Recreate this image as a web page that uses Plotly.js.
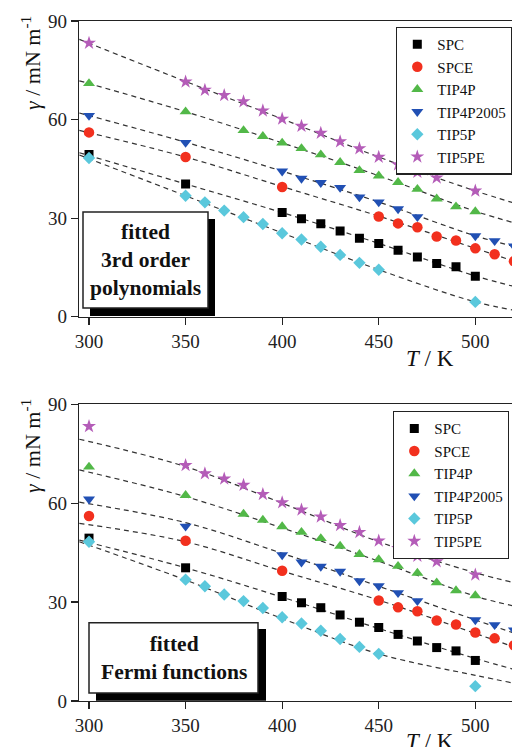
<!DOCTYPE html>
<html><head><meta charset="utf-8">
<script src="https://cdn.plot.ly/plotly-3.0.1.min.js"></script>
<style>html,body{margin:0;padding:0;overflow:hidden;background:#fff}#chart{width:524px;height:760px}</style>
</head><body><div id="chart"></div>
<script>
// Temperatures (K)
const T = [300,350,360,370,380,390,400,410,420,430,440,450,460,470,480,490,500,510,520];
// Surface tension (mN/m) per water model
const SPC       = [49.4,40.4,null,null,null,null,31.7,29.8,28.3,26.1,23.9,22.3,20.2,18.2,16.2,15.2,12.3,null,null];
const SPCE      = [56.1,48.6,null,null,null,null,39.5,null,null,null,null,30.5,28.4,27.2,24.4,23.2,20.8,19.0,16.9];
const TIP4P     = [71.0,62.4,null,null,56.7,54.9,52.9,51.2,49.3,47.0,44.5,42.9,40.9,38.8,35.9,33.5,32.0,null,null];
const TIP4P2005 = [61.2,53.0,null,null,null,null,44.3,42.1,40.8,39.3,36.4,34.9,32.8,30.4,null,null,24.6,23.1,21.5];
const TIP5P     = [48.3,36.8,34.8,32.3,30.3,28.2,25.4,23.5,21.3,18.8,16.4,14.3,null,null,null,null,4.5,null,null];
const TIP5PE    = [83.3,71.5,69.0,67.4,65.5,62.7,60.2,58.0,55.9,53.3,51.2,48.6,46.3,44.0,42.3,null,38.3,null,null];

// Fitted curves
const fitT = [295,350,400,450,500,520];
const polySPC       = [49.9,40.4,31.7,22.3,12.4,9.2];
const polySPCE      = [56.7,48.6,39.6,30.6,20.8,16.9];
const polyTIP4P     = [71.8,62.4,52.9,42.9,32.1,28.6];
const polyTIP4P2005 = [62.0,53.1,44.3,34.9,24.6,21.4];
const polyTIP5P     = [49.2,36.8,25.5,14.3,4.5,2.0];
const polyTIP5PE    = [84.4,71.6,60.2,48.6,38.3,34.6];

const fermiSPC       = [48.8,40.4,31.5,22.0,12.9,9.6];
const fermiSPCE      = [53.9,48.3,39.4,30.6,20.5,16.4];
const fermiTIP4P     = [70.1,62.0,52.5,42.4,31.8,28.8];
const fermiTIP4P2005 = [60.3,54.1,44.8,34.8,24.6,20.6];
const fermiTIP5P     = [48.3,36.7,25.0,14.3,7.8,5.4];
const fermiTIP5PE    = [79.4,71.1,60.0,48.3,38.9,35.9];

const names = ['SPC','SPCE','TIP4P','TIP4P2005','TIP5P','TIP5PE'];
const dataSets = [SPC,SPCE,TIP4P,TIP4P2005,TIP5P,TIP5PE];
const polyFits = [polySPC,polySPCE,polyTIP4P,polyTIP4P2005,polyTIP5P,polyTIP5PE];
const fermiFits = [fermiSPC,fermiSPCE,fermiTIP4P,fermiTIP4P2005,fermiTIP5P,fermiTIP5PE];

const symbols = ['square','circle','triangle-up','triangle-down','diamond','star'];
const colors = ['#000000','#f2301e','#52b848','#2150b4','#5ac8dc','#b45cb8'];
const sizes = [9,10.5,10.5,10.5,9.5,10.5];

const L=79, W=445, TOP=21, H=680, B=TOP+H;
const PX = x => (x-L)/W;
const PY = y => (B-y)/H;

const traces = [];
[[polyFits,'x','y','legend'],[fermiFits,'x2','y2','legend2']].forEach(([fits,xa,ya,lg])=>{
  fits.forEach(f=>traces.push({x:fitT,y:f,xaxis:xa,yaxis:ya,mode:'lines',
    line:{color:'#333',width:1.2,dash:'5px,4px',shape:'spline',smoothing:1},
    showlegend:false,hoverinfo:'skip'}));
  dataSets.forEach((d,i)=>traces.push({x:T,y:d,xaxis:xa,yaxis:ya,mode:'markers',name:names[i],legend:lg,
    marker:{symbol:symbols[i],color:colors[i],size:sizes[i],line:{width:0}}}));
});

const serif = 'Liberation Serif';
const xr = [294.82, 525.2];
function xax(anchor){return {anchor:anchor,domain:[0,1],range:xr,tickvals:[300,350,400,450,500],
  ticks:'outside',ticklen:7,tickwidth:1.2,tickcolor:'#222',showline:true,linecolor:'#222',linewidth:1.3,
  mirror:true,showgrid:false,zeroline:false,tickfont:{family:serif,size:19,color:'#222'}};}
function yax(anchor,dom){return {anchor:anchor,domain:dom,range:[0,90],tickvals:[0,30,60,90],
  ticks:'outside',ticklen:7,tickwidth:1.2,tickcolor:'#222',showline:true,linecolor:'#222',linewidth:1.3,
  mirror:true,showgrid:false,zeroline:false,tickfont:{family:serif,size:19,color:'#222'}};}

const legendBase = {xanchor:'left',yanchor:'top',bgcolor:'#fff',bordercolor:'#222',borderwidth:1.3,
  font:{family:serif,size:15,color:'#111'},traceorder:'normal'};

const ann = (x,y,text,size,extra)=>Object.assign({xref:'paper',yref:'paper',x:PX(x),y:PY(y),text:text,
  showarrow:false,xanchor:'center',yanchor:'middle',font:{family:serif,size:size,color:'#111'}},extra||{});

const layout = {
  width:524,height:760,margin:{l:L,r:0,t:TOP,b:760-B},
  font:{family:serif},
  paper_bgcolor:'#fff',plot_bgcolor:'#fff',
  xaxis:xax('y'),yaxis:yax('x',[PY(316.7),1]),
  xaxis2:xax('y2'),yaxis2:yax('x2',[0,PY(404.3)]),
  legend:Object.assign({x:PX(396),y:PY(26.7)},legendBase),
  legend2:Object.assign({x:PX(393),y:PY(411)},legendBase),
  shapes:[
    {type:'rect',xref:'paper',yref:'paper',x0:PX(90),x1:PX(215),y0:PY(316),y1:PY(219),fillcolor:'#000',line:{width:0},layer:'above'},
    {type:'rect',xref:'paper',yref:'paper',x0:PX(83),x1:PX(208),y0:PY(308),y1:PY(212),fillcolor:'#fff',line:{color:'#222',width:1.5},layer:'above'},
    {type:'rect',xref:'paper',yref:'paper',x0:PX(96),x1:PX(266),y0:PY(700.7),y1:PY(629),fillcolor:'#000',line:{width:0},layer:'above'},
    {type:'rect',xref:'paper',yref:'paper',x0:PX(89),x1:PX(258),y0:PY(693),y1:PY(622.7),fillcolor:'#fff',line:{color:'#222',width:1.5},layer:'above'}
  ],
  annotations:[
    ann(31,63,'<i>γ</i> / mN m<sup>-1</sup>',22,{textangle:-90}),
    ann(31,446,'<i>γ</i> / mN m<sup>-1</sup>',22,{textangle:-90}),
    ann(430,358,'<i>T</i> / K',23),
    ann(430,741,'<i>T</i> / K',23),
    ann(145.5,260,'<b>fitted<br>3rd order<br>polynomials</b>',21.5),
    ann(173.5,657.5,'<b>fitted<br>Fermi functions</b>',21.5)
  ]
};
Plotly.newPlot('chart',traces,layout,{displayModeBar:false,staticPlot:true});
</script></body></html>
